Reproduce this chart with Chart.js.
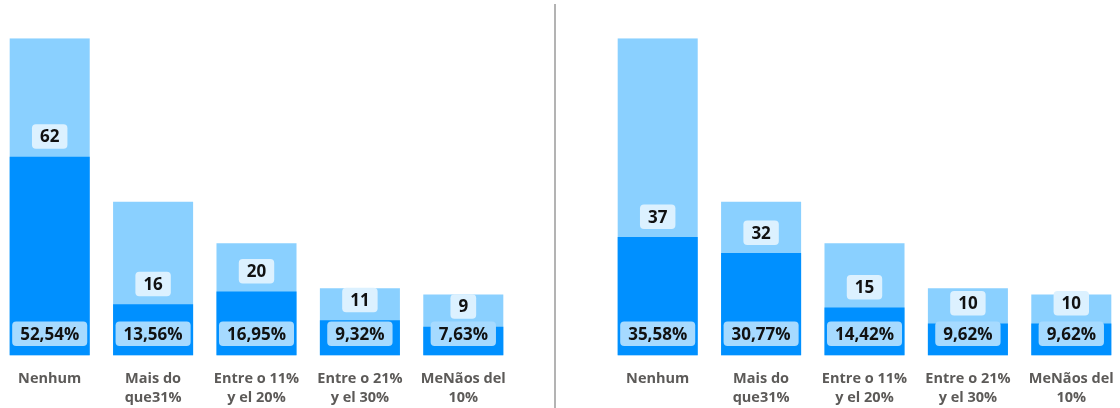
<!DOCTYPE html>
<html><head><meta charset="utf-8">
<script src="https://cdn.jsdelivr.net/npm/chart.js@4.4.1/dist/chart.umd.min.js"></script>
<style>
html,body{margin:0;padding:0;background:#fff;width:1120px;height:408px;overflow:hidden;position:relative}
.panel{position:absolute;top:0;width:517px;height:408px}
#p1{left:-2px}
#p2{left:606px}
#divider{position:absolute;left:554px;top:4px;width:2px;height:404px;background:#b3b3b3}
</style></head><body>
<div class="panel" id="p1"><canvas id="c1"></canvas></div>
<div id="divider"></div>
<div class="panel" id="p2"><canvas id="c2"></canvas></div>
<script>
const categories = [["Nenhum"], ["Mais do", "que31%"], ["Entre o 11%", "y el 20%"], ["Entre o 21%", "y el 30%"], ["MeNãos del", "10%"]];
const totals = [99, 48, 35, 21, 19];
const leftValues = [62, 16, 20, 11, 9];
const leftPct = ["52,54%", "13,56%", "16,95%", "9,32%", "7,63%"];
const rightValues = [37, 32, 15, 10, 10];
const rightPct = ["35,58%", "30,77%", "14,42%", "9,62%", "9,62%"];
const yMax = 99;

function drawBox(ctx, text, cx, cy, fill) {
  const w = ctx.measureText(text).width + 16;
  const h = 24.5;
  ctx.fillStyle = fill;
  ctx.beginPath();
  if (ctx.roundRect) ctx.roundRect(cx - w / 2, cy - h / 2, w, h, 4);
  else ctx.rect(cx - w / 2, cy - h / 2, w, h);
  ctx.fill();
  ctx.fillStyle = '#111';
  ctx.fillText(text, cx, cy + 1);
}

const labelPlugin = {
  id: 'barLabels',
  afterDatasetsDraw(chart) {
    const ctx = chart.ctx;
    const cfg = chart.options.plugins.barLabels;
    const meta = chart.getDatasetMeta(1);
    ctx.save();
    ctx.textAlign = 'center';
    ctx.textBaseline = 'middle';
    ctx.font = '700 17px "Open Sans"';
    meta.data.forEach((bar, i) => {
      drawBox(ctx, String(cfg.values[i]), bar.x, bar.y - 8 - 12.25, '#dcf1ff');
      drawBox(ctx, cfg.pct[i], bar.x, bar.base - 9.5 - 12.25, '#a6daff');
    });
    ctx.font = '700 14.5px "Open Sans"';
    ctx.fillStyle = '#5c5a58';
    const xs = chart.scales.x;
    chart.data.labels.forEach((lab, i) => {
      const x = xs.getPixelForValue(i);
      lab.forEach((line, j) => ctx.fillText(line, x, 379 + j * 19));
    });
    ctx.restore();
  }
};

function makeChart(id, values, pct) {
  return new Chart(document.getElementById(id), {
    type: 'bar',
    data: {
      labels: categories,
      datasets: [
        { data: totals, backgroundColor: '#8ad0ff', borderWidth: 0, grouped: false, order: 2, barPercentage: 0.774, categoryPercentage: 1 },
        { data: values, backgroundColor: '#0090ff', borderWidth: 0, grouped: false, order: 1, barPercentage: 0.774, categoryPercentage: 1 }
      ]
    },
    options: {
      responsive: true,
      maintainAspectRatio: false,
      animation: false,
      events: [],
      layout: { padding: { top: 38.3, bottom: 52.5, left: 0, right: 0 } },
      scales: {
        x: { display: false },
        y: { display: false, min: 0, max: yMax }
      },
      plugins: {
        legend: { display: false },
        tooltip: { enabled: false },
        barLabels: { values: values, pct: pct }
      }
    },
    plugins: [labelPlugin]
  });
}

makeChart('c1', leftValues, leftPct);
makeChart('c2', rightValues, rightPct);
</script>
</body></html>
